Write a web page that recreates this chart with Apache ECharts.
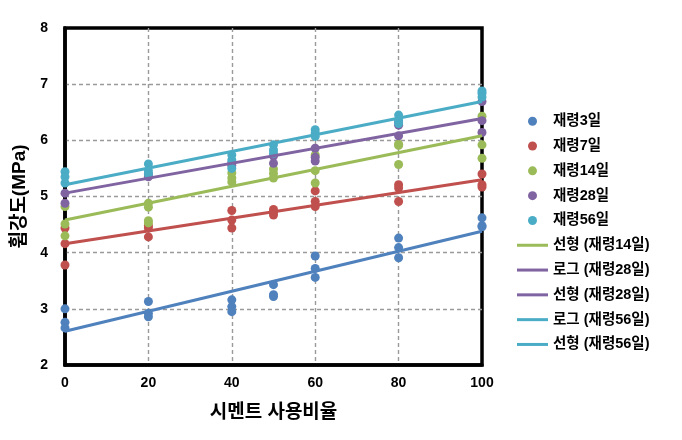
<!DOCTYPE html>
<html>
<head>
<meta charset="utf-8">
<script src="https://cdn.jsdelivr.net/npm/echarts@6/dist/echarts.min.js"></script>
<style>html,body{margin:0;padding:0;background:#fff;}#c{width:682px;height:440px;}</style>
</head>
<body>
<div id="c"></div>
<script>
// x-axis tick labels / y-axis range
const xTicks = [0, 20, 40, 60, 80, 100];
const yTicks = [2, 3, 4, 5, 6, 7, 8];

// Measured points [cement ratio, flexural strength]
const age3 = [[0,3.00],[0,2.76],[0,2.66],[20,3.13],[20,2.92],[20,2.86],[40,3.16],[40,3.04],[40,2.95],
  [50,3.43],[50,3.25],[50,3.22],[60,3.94],[60,3.72],[60,3.56],[80,4.26],[80,4.09],[80,3.91],[100,4.62],[100,4.48],[100,4.46]];
const age7 = [[0,4.44],[0,4.16],[0,3.78],[20,4.48],[20,4.44],[20,4.28],[40,4.75],[40,4.58],[40,4.44],
  [50,4.77],[50,4.72],[50,4.67],[60,5.10],[60,4.91],[60,4.82],[80,5.21],[80,5.15],[80,4.91],[100,5.40],[100,5.21],[100,5.17]];
const age14 = [[0,4.82],[0,4.51],[0,4.30],[20,4.88],[20,4.81],[20,4.57],[20,4.53],[40,5.42],[40,5.33],[40,5.26],
  [50,5.49],[50,5.41],[50,5.33],[60,5.74],[60,5.46],[60,5.24],[80,5.93],[80,5.91],[80,5.57],[100,6.43],[100,5.92],[100,5.68]];
const age28 = [[0,5.06],[0,4.88],[20,5.35],[20,5.40],[40,5.55],[40,5.60],[50,5.59],[50,5.72],
  [60,5.86],[60,5.70],[60,5.63],[80,6.33],[80,6.27],[80,6.08],[100,6.69],[100,6.35],[100,6.14]];
const age56 = [[0,5.44],[0,5.35],[0,5.24],[20,5.58],[20,5.46],[20,5.40],[40,5.74],[40,5.65],[40,5.50],
  [50,5.92],[50,5.83],[50,5.77],[60,6.19],[60,6.13],[60,6.07],[80,6.45],[80,6.36],[80,6.30],[100,6.88],[100,6.84],[100,6.77]];

// Trend line end values (at x = 0 and x = 100)
const trend3 = [2.60, 4.38];
const trend7 = [4.16, 5.30];
const trend14 = [4.58, 6.08];
const trend28 = [5.06, 6.39];
const trend56 = [5.21, 6.69];

const scatterNames = ['재령3일','재령7일','재령14일','재령28일','재령56일'];
const trendNames = ['선형 (재령3일)','선형 (재령7일)','선형 (재령14일)','로그 (재령28일)','선형 (재령28일)','로그 (재령56일)','선형 (재령56일)'];
const legendTrendNames = ['선형 (재령14일)','로그 (재령28일)','선형 (재령28일)','로그 (재령56일)','선형 (재령56일)'];

const colors = ['#4F81BD','#C0504D','#9BBB59','#8064A2','#4BACC6'];
const FONT = '"Liberation Sans", Arial, "Noto Sans CJK KR", sans-serif';

function scatter(name, data, color) {
  return { name, type: 'scatter', data, symbolSize: 9, z: 2,
    itemStyle: { color, opacity: 1 }, emphasis: { disabled: true } };
}
function trend(name, ends, color) {
  const data = ends ? [[xTicks[0], ends[0]], [xTicks[xTicks.length-1], ends[1]]] : [];
  return { name, type: 'line', data, symbol: 'none', showSymbol: false, z: 3, color,
    lineStyle: { color, width: 3 }, itemStyle: { color }, emphasis: { disabled: true } };
}

const legendData = scatterNames.map(n => ({ name: n, icon: 'circle' }))
  .concat(legendTrendNames.map(n => ({ name: n, icon: 'path://M0,0 L31,0 L31,3 L0,3 Z' })));

const splitStyle = { color: '#9a9a9a', width: 1.4, type: [4, 3] };

const chart = echarts.init(document.getElementById('c'), null, { renderer: 'canvas' });
chart.setOption({
  animation: false,
  backgroundColor: '#fff',
  grid: { left: 65, right: 200, top: 28, bottom: 75, show: true, borderColor: '#000', borderWidth: 3.5, containLabel: false },
  xAxis: {
    type: 'value', min: xTicks[0], max: xTicks[xTicks.length-1], interval: 20,
    name: '시멘트 사용비율', nameLocation: 'middle', nameGap: 38,
    nameTextStyle: { fontFamily: FONT, fontSize: 19, fontWeight: 'bold', color: '#000' },
    axisLine: { show: true, lineStyle: { color: '#000', width: 3.5 } },
    axisTick: { show: false },
    axisLabel: { margin: 11, fontFamily: FONT, fontSize: 14, fontWeight: 'bold', color: '#000' },
    splitLine: { show: true, showMinLine: false, showMaxLine: false, lineStyle: splitStyle }
  },
  yAxis: {
    type: 'value', min: yTicks[0], max: yTicks[yTicks.length-1], interval: 1,
    name: '휨강도(MPa)', nameLocation: 'middle', nameGap: 35,
    nameTextStyle: { fontFamily: FONT, fontSize: 19, fontWeight: 'bold', color: '#000' },
    axisLine: { show: true, lineStyle: { color: '#000', width: 3.5 } },
    axisTick: { show: false },
    axisLabel: { margin: 17, fontFamily: FONT, fontSize: 14, fontWeight: 'bold', color: '#000' },
    splitLine: { show: true, showMinLine: false, showMaxLine: false, lineStyle: splitStyle }
  },
  legend: {
    data: legendData, orient: 'vertical', left: 512, top: 109,
    itemWidth: 31, itemHeight: 9, itemGap: 10.3,
    textStyle: { fontFamily: FONT, fontSize: 14.5, fontWeight: 'bold', color: '#000' },
    selectedMode: false
  },
  series: [
    scatter(scatterNames[0], age3, colors[0]),
    scatter(scatterNames[1], age7, colors[1]),
    scatter(scatterNames[2], age14, colors[2]),
    scatter(scatterNames[3], age28, colors[3]),
    scatter(scatterNames[4], age56, colors[4]),
    trend(trendNames[0], trend3, colors[0]),
    trend(trendNames[1], trend7, colors[1]),
    trend(trendNames[2], trend14, colors[2]),
    trend(trendNames[3], null, colors[3]),
    trend(trendNames[4], trend28, colors[3]),
    trend(trendNames[5], null, colors[4]),
    trend(trendNames[6], trend56, colors[4])
  ]
});
</script>
</body>
</html>
